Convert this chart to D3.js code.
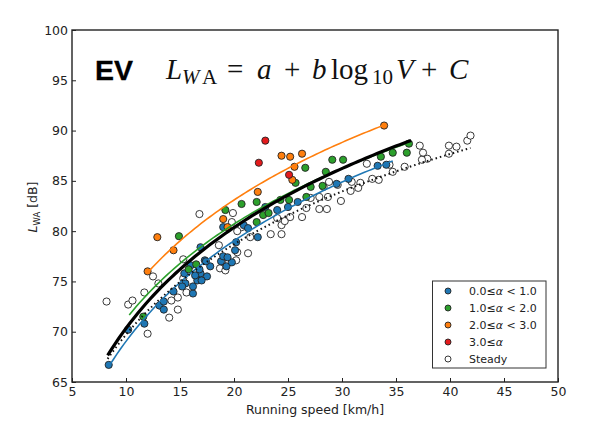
<!DOCTYPE html>
<html><head><meta charset="utf-8">
<script src="https://cdn.jsdelivr.net/npm/d3@7"></script>
<style>body{margin:0;background:#fff}text{font-family:"DejaVu Sans",sans-serif}</style>
</head><body><svg id="c" width="600" height="435"></svg>
<script>
// ---- data ----
const xTicks=[5,10,15,20,25,30,35,40,45,50];
const yTicks=[65,70,75,80,85,90,95,100];
const xLabel="Running speed [km/h]";

const blueV=[8.4,10.2,11.7,13.1,13.5,13.5,14.4,15.5,15.4,16.2,16.6,16.9,17.5,17.3,16.9,17.8,18.8,19.3,19.0,20.1,20.2,19.8,19.4,16.0,17.4,16.4,17.0,16.2,15.2,19.0,20.9,21.3,22.2,22.9,24.0,25.0,25.9,29.5,30.6,33.3,34.1,16.8];
const blueL=[66.7,70.2,70.8,72.6,73.0,72.2,74.0,74.8,75.8,73.8,75.1,75.8,75.5,77.1,78.4,76.5,77.0,76.5,77.5,78.1,78.9,76.9,77.4,76.6,77.0,75.6,75.1,74.5,74.5,80.4,80.6,80.3,79.4,82.4,82.1,82.4,82.9,84.7,85.2,86.5,86.6,76.2];

const greenV=[11.6,14.9,15.8,16.5,19.2,20.7,22.1,22.1,22.7,23.2,24.3,25.1,25.7,26.6,26.7,27.1,28.2,28.5,29.1,30.1,33.6,34.7,36.0,36.2];
const greenL=[71.5,79.5,76.2,76.7,82.1,82.7,82.9,80.9,81.6,81.8,83.1,83.1,84.8,86.3,83.4,84.4,84.5,85.9,87.1,87.1,87.4,87.8,87.8,88.7];

const orangeV=[12.0,12.9,14.4,19.0,19.4,22.2,24.4,25.2,26.3,25.6,25.4,33.9];
const orangeL=[76.0,79.4,78.1,81.2,80.4,83.9,87.5,87.4,87.7,86.4,85.1,90.5];

const redV=[22.9,22.3,25.1];
const redL=[89.0,86.8,85.6];

const steadyV=[8.2,10.2,10.6,11.7,12.0,12.5,13.0,14.0,14.8,14.2,14.8,15.6,15.3,15.3,16.8,18.7,19.2,20.2,18.6,18.9,19.8,19.9,20.7,20.3,21.5,21.3,20.3,23.4,24.4,24.4,24.7,24.0,25.2,26.3,26.7,27.1,27.9,28.7,27.9,28.6,29.9,28.8,29.6,28.3,30.9,31.7,30.8,31.5,32.8,33.4,32.3,34.4,34.7,35.8,37.2,37.5,37.9,37.4,39.9,40.6,39.9,41.6,41.9];
const steadyL=[73.0,72.7,73.1,73.9,69.8,75.5,74.8,71.4,72.2,73.1,73.4,73.9,77.2,75.3,81.7,76.3,76.1,77.1,78.6,77.0,80.9,81.8,80.4,80.0,79.4,77.8,77.9,79.7,79.7,80.6,81.0,81.3,81.4,81.4,82.3,83.3,83.4,83.4,82.2,82.2,83.0,84.9,84.6,84.4,84.9,84.8,84.0,84.3,85.2,85.1,86.7,86.6,85.9,86.4,88.5,87.8,87.2,87.1,88.5,88.4,87.7,89.0,89.5];

// fitted curves L = a + b*log10(V)
const fitNames=["blue","green","orange","steady","all"];
const fitA=[35.84,39.88,40.77,39.88,37.04];
const fitB=[33.2,31.38,32.53,29.83,33.3];
const fitVmin=[8.5,10.3,12.0,8.3,8.3];
const fitVmax=[34.7,36.3,33.9,41.9,36.4];

const legendLabels=["0.0≤α < 1.0","1.0≤α < 2.0","2.0≤α < 3.0","3.0≤α","Steady"];

// ---- drawing ----
const C={blue:"#1f77b4",green:"#2ca02c",orange:"#ff7f0e",red:"#e41a1c",steady:"#ffffff"};
const svg=d3.select("#c");
const x=d3.scaleLinear().domain([5,50]).range([72,558]);
const y=d3.scaleLinear().domain([65,100]).range([382,30]);

const gx=svg.append("g").attr("transform","translate(0,382)")
  .call(d3.axisBottom(x).tickValues(xTicks).tickSize(-4).tickPadding(5).tickFormat(d3.format("d")));
const gy=svg.append("g").attr("transform","translate(72,0)")
  .call(d3.axisLeft(y).tickValues(yTicks).tickSize(-4).tickPadding(4).tickFormat(d3.format("d")));
[gx,gy].forEach(g=>{g.select(".domain").remove();
  g.selectAll("text").style("font-family","DejaVu Sans").style("font-size","12.5px").attr("fill","#222");
  g.selectAll("line").attr("stroke","#222");});

const series=[[steadyV,steadyL,C.steady],[blueV,blueL,C.blue],[greenV,greenL,C.green],[orangeV,orangeL,C.orange],[redV,redL,C.red]];
series.forEach(([vs,ls,col])=>{
  svg.append("g").selectAll("circle").data(vs.map((v,i)=>[v,ls[i]])).join("circle")
    .attr("cx",d=>x(d[0])).attr("cy",d=>y(d[1])).attr("r",3.6)
    .attr("fill",col).attr("stroke","#222").attr("stroke-width",0.9);
});

const line=d3.line().x(d=>x(d[0])).y(d=>y(d[1]));
const fitStyle={blue:[C.blue,1.6,null],green:[C.green,1.6,null],orange:[C.orange,1.6,null],steady:["#111",2,"1.5,3"],all:["#000",3.2,null]};
fitNames.forEach((n,k)=>{
  const pts=d3.range(0,81).map(i=>{const v=fitVmin[k]+(fitVmax[k]-fitVmin[k])*i/80;return [v,fitA[k]+fitB[k]*Math.log10(v)];});
  const s=fitStyle[n];
  svg.append("path").attr("d",line(pts)).attr("fill","none").attr("stroke",s[0]).attr("stroke-width",s[1])
    .attr("stroke-dasharray",s[2]);
});

// frame
svg.append("rect").attr("x",72).attr("y",30).attr("width",486).attr("height",352)
  .attr("fill","none").attr("stroke","#222").attr("stroke-width",1.4);

// axis labels
svg.append("text").attr("x",315).attr("y",414).attr("text-anchor","middle").attr("font-size","12.5px").attr("fill","#222").text(xLabel);
const yl=svg.append("text").attr("transform","translate(37,207) rotate(-90)").attr("text-anchor","middle").attr("font-size","12.5px").attr("fill","#222");
yl.append("tspan").attr("font-style","italic").text("L");
yl.append("tspan").attr("font-size","8.5px").attr("dy",3).text("WA");
yl.append("tspan").attr("dy",-3).text(" [dB]");

// title
svg.append("text").attr("x",95).attr("y",80).style("font-family","Liberation Sans").attr("font-weight","bold")
  .attr("font-size","28.5px").attr("fill","#000").attr("stroke","#000").attr("stroke-width",0.3).text("EV");
const ft=svg.append("g").attr("fill","#111");
const pieces=[["L",166,79,29,"italic"],["W",182,84,21,"italic"],["A",202,84,21,"normal"],["=",227,79,29,"normal"],
 ["a",257,79,29,"italic"],["+",284,79,29,"normal"],["b",312,79,29,"italic"],["log",331,79,29,"normal"],
 ["10",372,84,21,"normal"],["V",396,79,29,"italic"],["+",421,79,29,"normal"],["C",449,79,29,"italic"]];
pieces.forEach(p=>ft.append("text").attr("x",p[1]).attr("y",p[2]).attr("font-size",p[3]+"px").attr("font-style",p[4]).style("font-family","Liberation Serif").text(p[0]));

// legend
const lg=svg.append("g");
lg.append("rect").attr("x",432.5).attr("y",281).attr("width",113.5).attr("height",87).attr("fill","#fff").attr("stroke","#333").attr("stroke-width",1);
const lcols=[C.blue,C.green,C.orange,C.red,C.steady];
legendLabels.forEach((t,i)=>{
  const yy=291+i*17;
  lg.append("circle").attr("cx",448).attr("cy",yy).attr("r",3).attr("fill",lcols[i]).attr("stroke","#222").attr("stroke-width",0.9);
  const tx=lg.append("text").attr("x",469).attr("y",yy+4).attr("font-size","11px").attr("fill","#222");
  t.split(/(α)/).forEach(s=>{ if(s) tx.append("tspan").attr("font-style",s==="α"?"italic":"normal").text(s);});
});
</script></body></html>
